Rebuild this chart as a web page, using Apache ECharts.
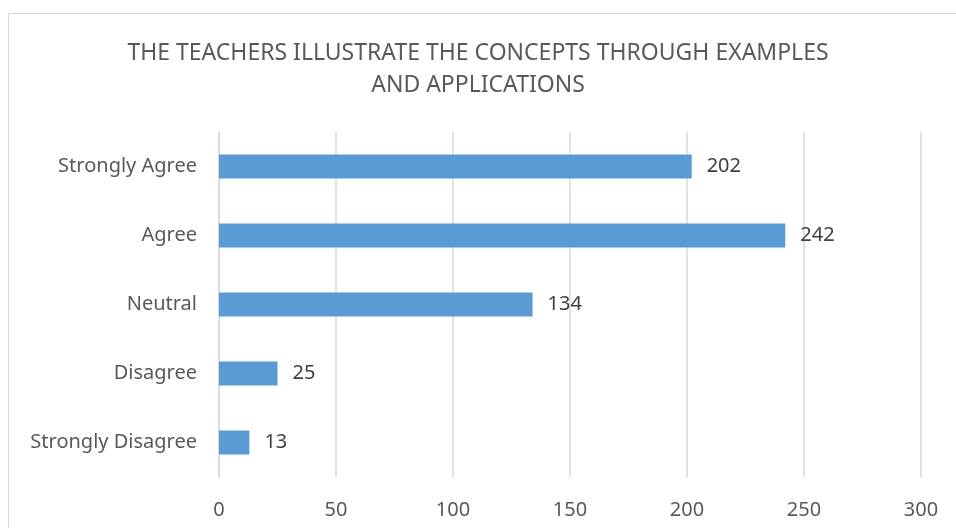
<!DOCTYPE html>
<html>
<head>
<meta charset="utf-8">
<script src="https://cdn.jsdelivr.net/npm/echarts@6/dist/echarts.min.js"></script>
<style>
  html, body { margin: 0; padding: 0; background: #fff; }
  #frame { position: absolute; left: 8px; top: 13px; width: 960px; height: 530px;
           border-left: 1px solid #d9d9d9; border-top: 1px solid #d9d9d9; }
  #chart { position: absolute; left: 0; top: 0; width: 956px; height: 528px; }
</style>
</head>
<body>
<div id="frame"></div>
<div id="chart"></div>
<script>
// categories bottom to top (echarts category axis starts at the bottom)
var categories = ['Strongly Disagree', 'Disagree', 'Neutral', 'Agree', 'Strongly Agree']
var counts = [13, 25, 134, 242, 202]
var titleText = 'THE TEACHERS ILLUSTRATE THE CONCEPTS THROUGH EXAMPLES\nAND APPLICATIONS'

var chart = echarts.init(document.getElementById('chart'))
chart.setOption({
  animation: false,
  textStyle: { fontFamily: 'Noto Sans' },
  title: {
    text: titleText,
    left: 'center',
    top: 32,
    textStyle: {
      fontSize: 23,
      fontWeight: 'normal',
      color: '#595959',
      lineHeight: 32,
      align: 'center'
    }
  },
  grid: {
    left: 219,
    right: 35,
    top: 132,
    bottom: 51
  },
  xAxis: {
    type: 'value',
    min: 0,
    max: 300,
    interval: 50,
    axisLine: { show: false },
    axisTick: { show: false },
    axisLabel: { color: '#595959', fontSize: 20, margin: 23 },
    splitLine: { lineStyle: { color: '#d9d9d9', width: 1.5 } }
  },
  yAxis: {
    type: 'category',
    data: categories,
    axisLine: { show: true, lineStyle: { color: '#d9d9d9', width: 1.5 } },
    axisTick: { show: false },
    axisLabel: { color: '#595959', fontSize: 20, margin: 22 }
  },
  series: [
    {
      type: 'bar',
      data: counts,
      barWidth: 24,
      itemStyle: { color: '#5b9bd5' },
      label: {
        show: true,
        position: 'right',
        distance: 15,
        color: '#404040',
        fontSize: 20
      }
    }
  ]
})
</script>
</body>
</html>
